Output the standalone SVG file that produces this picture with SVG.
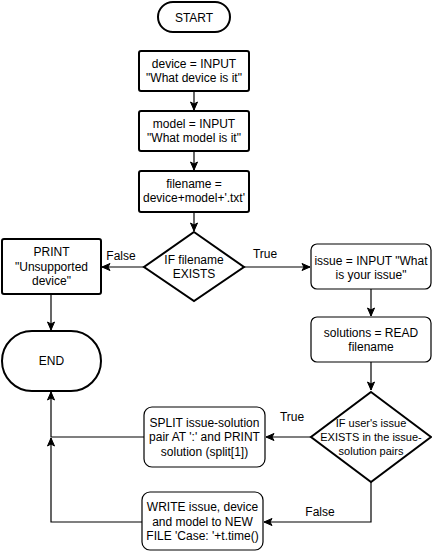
<svg xmlns="http://www.w3.org/2000/svg" width="432" height="552" viewBox="0 0 432 552">
<style>
text{font-family:"Liberation Sans",Arial,sans-serif;font-size:12px;fill:#000;text-anchor:middle}
.thick{fill:#fff;stroke:#000;stroke-width:2}
.thin{fill:#fff;stroke:#000;stroke-width:1.2}
.edge{fill:none;stroke:#000;stroke-width:1.2}
.small{font-size:11px}
</style>
<defs>
<marker id="arr" markerUnits="userSpaceOnUse" markerWidth="10" markerHeight="10" viewBox="0 0 10 10" refX="9" refY="5" orient="auto">
<path d="M1,1.5 L9,5 L1,8.5 L3,5 Z" fill="#000" stroke="#000" stroke-width="1"/>
</marker>
</defs>
<rect width="432" height="552" fill="#fff"/>
<g id="connectors">
<path class="edge" d="M194,91 L194,110" marker-end="url(#arr)"/>
<path class="edge" d="M194,151 L194,170" marker-end="url(#arr)"/>
<path class="edge" d="M194,212 L194,231" marker-end="url(#arr)"/>
<path class="edge" d="M144,267 L102,267" marker-end="url(#arr)"/>
<path class="edge" d="M244,267 L310,267" marker-end="url(#arr)"/>
<path class="edge" d="M51,295 L51,330" marker-end="url(#arr)"/>
<path class="edge" d="M371,289 L371,316" marker-end="url(#arr)"/>
<path class="edge" d="M371,362 L371,390" marker-end="url(#arr)"/>
<path class="edge" d="M311,437 L266,437" marker-end="url(#arr)"/>
<path class="edge" d="M371,482 L371,522 L264,522" marker-end="url(#arr)"/>
<path class="edge" d="M144,437 L51,437 L51,392" marker-end="url(#arr)"/>
<path class="edge" d="M142,522 L51,522 L51,438" marker-end="url(#arr)"/>
<text x="121" y="260">False</text>
<text x="265" y="258">True</text>
<text x="292" y="421">True</text>
<text x="320" y="516">False</text>
</g>
<g id="start">
<rect class="thick" x="158" y="2" width="72" height="30" rx="15" ry="15"/>
<text x="194" y="21.5">START</text>
</g>
<g id="device">
<rect class="thick" x="139" y="51" width="110" height="40" rx="2"/>
<text x="194" y="68">device = INPUT</text>
<text x="194" y="82">"What device is it"</text>
</g>
<g id="model">
<rect class="thick" x="139" y="111" width="110" height="40" rx="2"/>
<text x="194" y="128">model = INPUT</text>
<text x="194" y="142">"What model is it"</text>
</g>
<g id="filename">
<rect class="thick" x="139" y="171" width="110" height="41" rx="2"/>
<text x="194" y="188">filename =</text>
<text x="194" y="202">device+model+'.txt'</text>
</g>
<g id="if-filename">
<polygon class="thick" points="194,232 244,267 194,301 144,267"/>
<text x="194" y="264">IF filename</text>
<text x="194" y="278">EXISTS</text>
</g>
<g id="print">
<rect class="thick" x="2" y="239" width="99" height="55" rx="2"/>
<text x="51.5" y="256">PRINT</text>
<text x="51.5" y="271">"Unsupported</text>
<text x="51.5" y="285">device"</text>
</g>
<g id="end">
<rect class="thick" x="2" y="331" width="99" height="60" rx="30" ry="30"/>
<text x="51.5" y="365">END</text>
</g>
<g id="issue">
<rect class="thin" x="311" y="244" width="120" height="45" rx="6"/>
<text x="371" y="265">issue = INPUT "What</text>
<text x="371" y="279">is your issue"</text>
</g>
<g id="solutions">
<rect class="thin" x="311" y="317" width="120" height="45" rx="6"/>
<text x="371" y="337">solutions = READ</text>
<text x="371" y="351">filename</text>
</g>
<g id="if-issue">
<polygon class="thick" points="371,392 431,437 371,482 311,437"/>
<text class="small" x="371" y="427">IF user's issue</text>
<text class="small" x="371" y="441">EXISTS in the issue-</text>
<text class="small" x="371" y="455">solution pairs</text>
</g>
<g id="split">
<rect class="thin" x="144" y="407" width="121" height="60" rx="8"/>
<text x="204.5" y="427">SPLIT issue-solution</text>
<text x="204.5" y="441">pair AT ':' and PRINT</text>
<text x="204.5" y="456">solution (split[1])</text>
</g>
<g id="write">
<rect class="thin" x="142" y="492" width="121" height="58" rx="8"/>
<text x="202.5" y="511">WRITE issue, device</text>
<text x="202.5" y="525.5">and model to NEW</text>
<text x="202.5" y="540">FILE 'Case: '+t.time()</text>
</g>
</svg>
